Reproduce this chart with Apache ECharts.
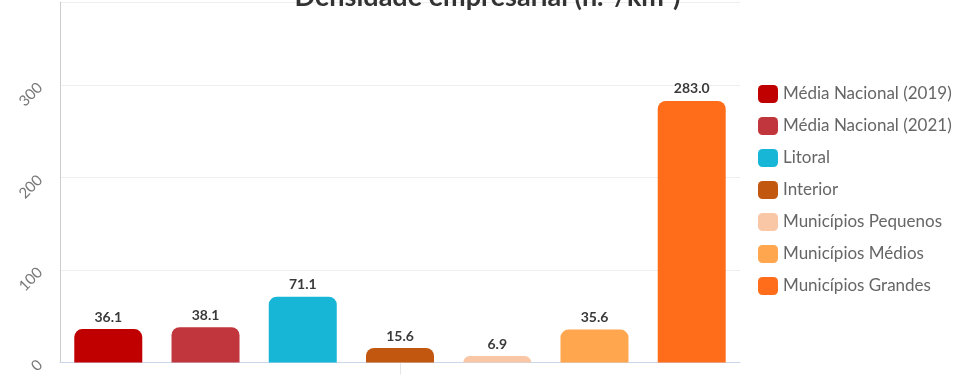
<!DOCTYPE html>
<html>
<head>
<meta charset="utf-8">
<script src="https://cdn.jsdelivr.net/npm/echarts@6/dist/echarts.min.js"></script>
<style>
  html, body { margin: 0; padding: 0; background: #fff; }
  #main { width: 975px; height: 376px; }
</style>
</head>
<body>
<div id="main"></div>
<script>
// dados
const categories = [''];
const seriesNames = [
  'Média Nacional (2019)',
  'Média Nacional (2021)',
  'Litoral',
  'Interior',
  'Municípios Pequenos',
  'Municípios Médios',
  'Municípios Grandes'
];
const seriesValues = [36.1, 38.1, 71.1, 15.6, 6.9, 35.6, 283.0];
const yTicks = [0, 100, 200, 300];

// cores
const palette = ['#c00000', '#c0363c', '#17b6d6', '#c25710', '#f9c6a6', '#ffa64f', '#ff6d1b'];

const myChart = echarts.init(document.getElementById('main'));

const series = seriesNames.map((name, i) => ({
  name: name,
  type: 'bar',
  data: [seriesValues[i]],
  barWidth: 68,
  barGap: '43%',
  itemStyle: { color: palette[i], borderRadius: [8, 8, 0, 0] },
  label: {
    show: true,
    position: 'top',
    distance: 5,
    formatter: p => p.value.toFixed(1),
    fontFamily: 'Lato',
    fontWeight: 'bold',
    fontSize: 14,
    color: '#3a3a3a',
    textBorderColor: '#fff',
    textBorderWidth: 2
  }
}));

const options = {
  animation: false,
  title: {
    text: 'Densidade empresarial (n.º/km²)',
    left: 'center',
    top: -21,
    textStyle: { fontFamily: 'Lato', fontWeight: 'bold', fontSize: 27, color: '#333' }
  },
  legend: {
    orient: 'vertical',
    left: 753,
    top: 80,
    itemWidth: 20,
    itemHeight: 18,
    itemGap: 14,
    icon: 'roundRect',
    textStyle: { fontFamily: 'Lato', fontSize: 17, color: '#666' }
  },
  grid: { left: 60, right: 235, top: 0, bottom: 13, containLabel: false },
  xAxis: {
    type: 'category',
    data: categories,
    axisLine: { lineStyle: { color: '#ccd6eb', width: 1 } },
    axisTick: { show: true, alignWithLabel: true, length: 12, lineStyle: { color: '#e4e4e4' } },
    axisLabel: { show: false }
  },
  yAxis: {
    type: 'value',
    min: 0,
    max: 390,
    interval: 100,
    axisLine: { show: true, lineStyle: { color: '#ccc' } },
    axisTick: { show: false },
    splitLine: { lineStyle: { color: '#eeeeee' } },
    axisLabel: {
      rotate: 45,
      margin: 20,
      fontFamily: 'Lato',
      fontSize: 15,
      color: '#777',
      formatter: v => (yTicks.indexOf(v) >= 0 ? String(v) : '')
    }
  },
  series: series
};

myChart.setOption(options, true);
</script>
</body>
</html>
